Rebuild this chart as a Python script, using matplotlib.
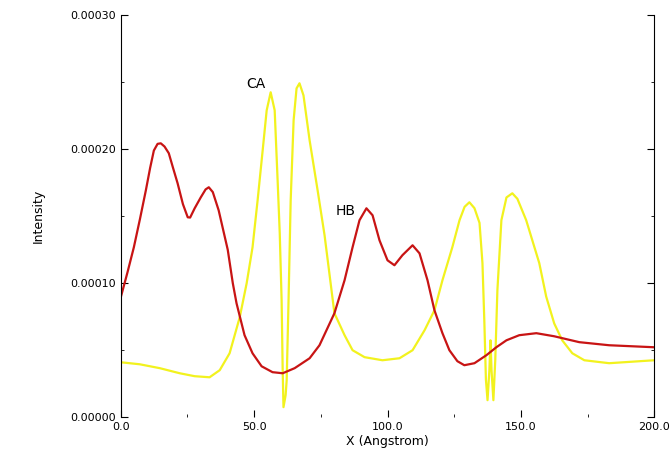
import matplotlib
matplotlib.use('Agg')
import matplotlib.pyplot as plt
from matplotlib.ticker import MultipleLocator, FormatStrFormatter

# HB curve (intensity in units of 1e-4)
hb_x = [0, 2.5, 4.9, 7.2, 9.4, 11.0, 12.4, 13.8, 15.0, 16.4, 18.0, 19.6, 21.3,
        23.3, 25.1, 26.0, 27.7, 30.0, 31.8, 33.0, 34.5, 36.7, 40.1, 42.0, 43.4,
        46.4, 49.4, 52.8, 56.9, 60.7, 65.2, 70.8, 74.5,
        80.1, 83.9, 86.9, 89.5, 92.1, 94.4, 97.0, 100.0, 102.6, 105.6, 109.4,
        112.0, 115.0, 117.6, 120.6, 123.2, 126.2, 128.8, 132.6, 137.1, 140.8,
        144.6, 149.4, 155.8, 162.5, 171.9, 183.1, 200.0]
hb_y = [0.895, 1.080, 1.268, 1.480, 1.693, 1.860, 1.990, 2.040, 2.044, 2.020,
        1.970, 1.860, 1.746, 1.590, 1.492, 1.490, 1.559, 1.641, 1.700, 1.716,
        1.680, 1.544, 1.250, 1.000, 0.850, 0.612, 0.477, 0.380,
        0.336, 0.328, 0.366, 0.440, 0.537, 0.776, 1.022, 1.268, 1.470, 1.559,
        1.507, 1.320, 1.171, 1.134, 1.209, 1.283, 1.223, 1.022, 0.798, 0.627,
        0.500, 0.418, 0.388, 0.403, 0.463, 0.522, 0.574, 0.612, 0.627, 0.604,
        0.560, 0.537, 0.522]

# CA curve
ca_x = [0, 7.1, 14.6, 22.1, 27.7, 33.3, 37.1, 40.8, 44.6, 47.2, 49.4, 51.3,
        53.2, 54.7, 56.2, 57.7, 58.8, 59.6, 60.3, 60.7, 61.0, 61.8, 62.2, 62.9,
        63.7, 64.8, 65.9, 67.0, 68.5, 70.8, 73.8, 76.4, 80.1, 83.9, 86.9, 91.4,
        98.1, 104.5, 109.4, 113.9, 117.6, 120.6, 124.3, 127.0, 128.9, 130.7,
        132.6, 134.5, 135.6, 136.3, 136.9, 137.5, 138.2, 138.6, 139.0, 139.7,
        140.4, 141.2, 142.7, 144.6, 146.8, 148.7, 152.0, 156.9, 159.5, 162.5,
        165.5, 169.3, 173.8, 183.1, 200.0]
ca_y = [0.410, 0.395, 0.366, 0.328, 0.306, 0.298, 0.351, 0.477, 0.746, 1.000,
        1.268, 1.619, 1.992, 2.290, 2.425, 2.290, 1.768, 1.373, 0.873, 0.351,
        0.075, 0.164, 0.276, 0.873, 1.619, 2.216, 2.454, 2.492, 2.402, 2.066,
        1.693, 1.358, 0.776, 0.612, 0.500, 0.448, 0.425, 0.440, 0.500, 0.649,
        0.798, 1.022, 1.268, 1.470, 1.570, 1.604, 1.560, 1.450, 1.150, 0.720,
        0.280, 0.127, 0.351, 0.574, 0.351, 0.127, 0.425, 0.947, 1.470, 1.640,
        1.671, 1.630, 1.470, 1.150, 0.900, 0.700, 0.574, 0.477, 0.425, 0.403,
        0.425]

scale = 1e-4

fig = plt.figure(figsize=(6.71, 4.61), dpi=100)
ax = fig.add_axes([0.180, 0.095, 0.795, 0.872])

ax.plot(ca_x, [v * scale for v in ca_y], color='#f2f21e', lw=1.6)
ax.plot(hb_x, [v * scale for v in hb_y], color='#c81414', lw=1.6)

ax.set_xlim(0, 200)
ax.set_ylim(0, 0.0003)
ax.xaxis.set_major_locator(MultipleLocator(50))
ax.xaxis.set_minor_locator(MultipleLocator(25))
ax.yaxis.set_major_locator(MultipleLocator(0.0001))
ax.yaxis.set_minor_locator(MultipleLocator(0.00005))
ax.xaxis.set_major_formatter(FormatStrFormatter('%.1f'))
ax.yaxis.set_major_formatter(FormatStrFormatter('%.5f'))
ax.tick_params(which='both', direction='in', right=True, labelsize=8)
ax.tick_params(which='major', length=5)
ax.tick_params(which='minor', length=2)

ax.spines['top'].set_visible(False)
ax.spines['bottom'].set_visible(False)

ax.text(47, 0.000246, 'CA', fontsize=10)
ax.text(80.5, 0.000151, 'HB', fontsize=10)

ax.set_xlabel('X (Angstrom)', fontsize=9, labelpad=2)
ax.set_ylabel('Intensity', fontsize=9, labelpad=18)

fig.savefig('out.png', dpi=100)
plt.close()
